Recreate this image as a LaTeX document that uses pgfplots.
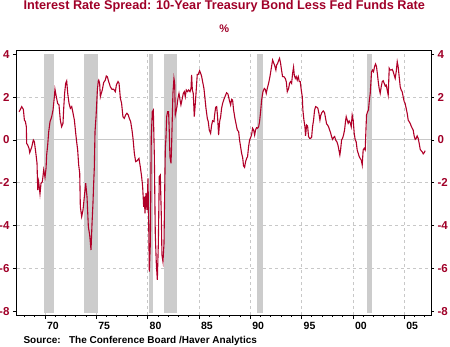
\documentclass[border=0pt]{standalone}
\usepackage{fontspec}
\setmainfont{Liberation Sans}
\usepackage{pgfplots}
\usepackage{pgfplotstable}
\pgfplotsset{compat=1.18}
\definecolor{tred}{RGB}{160,0,40}
\definecolor{lred}{RGB}{176,0,40}
\definecolor{recg}{RGB}{204,204,204}
\definecolor{gridg}{RGB}{200,200,200}
\pgfplotstableread{
x y
1967.47 1.32
1967.57 1.40
1967.73 1.56
1967.89 1.43
1967.99 0.93
1968.09 0.86
1968.18 0.62
1968.21 -0.16
1968.31 -0.23
1968.44 -0.39
1968.51 -0.59
1968.60 -0.47
1968.70 -0.34
1968.86 0.00
1968.96 -0.08
1969.09 -0.55
1969.22 -1.09
1969.29 -2.34
1969.38 -1.95
1969.51 -2.52
1969.61 -2.02
1969.74 -1.95
1969.87 -1.40
1970.00 -1.74
1970.10 -1.32
1970.16 -0.70
1970.26 -0.23
1970.36 0.39
1970.49 0.86
1970.65 1.09
1970.78 1.40
1970.91 2.02
1970.97 2.37
1971.10 2.02
1971.23 1.71
1971.36 1.64
1971.49 0.93
1971.62 0.62
1971.75 0.78
1971.82 1.48
1971.91 2.18
1972.01 2.65
1972.11 2.76
1972.21 2.18
1972.34 1.71
1972.47 1.48
1972.60 1.56
1972.73 1.25
1972.86 0.93
1972.99 0.31
1973.08 -0.08
1973.18 -0.47
1973.28 -1.17
1973.38 -1.56
1973.44 -3.12
1973.57 -3.58
1973.70 -3.27
1973.83 -2.65
1973.96 -2.02
1974.09 -2.65
1974.22 -4.05
1974.35 -4.44
1974.48 -5.14
1974.58 -3.89
1974.67 -2.96
1974.74 -2.02
1974.80 -1.32
1974.87 0.39
1974.97 1.09
1975.10 2.34
1975.19 2.76
1975.23 2.80
1975.32 2.65
1975.39 2.02
1975.48 2.18
1975.58 2.34
1975.71 2.68
1975.87 2.80
1975.97 2.99
1976.07 2.96
1976.20 2.73
1976.36 2.49
1976.52 2.37
1976.69 2.37
1976.85 2.26
1976.95 2.57
1977.11 2.73
1977.21 2.65
1977.34 1.95
1977.46 1.71
1977.59 1.09
1977.72 1.01
1977.85 1.17
1977.98 1.25
1978.11 1.17
1978.21 1.01
1978.34 0.86
1978.47 0.47
1978.57 0.08
1978.70 -0.62
1978.83 -1.01
1978.96 -0.98
1979.15 -0.86
1979.28 -1.25
1979.41 -1.71
1979.51 -2.18
1979.61 -3.12
1979.67 -2.65
1979.74 -3.43
1979.83 -2.49
1979.93 -3.27
1980.03 -1.79
1980.09 -3.58
1980.16 -6.15
1980.26 -4.83
1980.35 0.16
1980.45 1.32
1980.55 1.40
1980.65 -0.78
1980.74 -4.36
1980.84 -5.76
1980.94 -6.54
1981.04 -4.83
1981.13 -1.71
1981.23 -1.64
1981.33 -3.58
1981.39 -5.37
1981.49 -5.69
1981.59 -4.83
1981.65 -2.65
1981.72 -0.39
1981.78 0.08
1981.85 1.09
1981.94 1.32
1982.04 1.32
1982.11 0.31
1982.17 -0.78
1982.27 -1.09
1982.33 -0.31
1982.40 1.09
1982.46 2.18
1982.56 2.88
1982.63 2.65
1982.69 1.17
1982.79 1.40
1982.85 1.56
1982.95 1.95
1983.05 2.18
1983.18 1.79
1983.24 1.64
1983.34 1.87
1983.47 2.18
1983.57 2.26
1983.66 2.02
1983.76 2.34
1983.89 2.26
1983.99 2.34
1984.12 2.26
1984.22 2.41
1984.28 3.04
1984.35 2.34
1984.44 2.18
1984.54 1.09
1984.64 1.71
1984.74 2.41
1984.83 3.07
1984.93 3.07
1985.06 3.24
1985.16 3.12
1985.26 2.96
1985.35 2.73
1985.48 2.41
1985.58 1.95
1985.68 1.48
1985.81 1.01
1985.90 0.86
1986.00 0.47
1986.13 0.31
1986.23 0.70
1986.33 0.90
1986.46 0.86
1986.52 1.17
1986.62 1.53
1986.72 1.56
1986.81 1.09
1986.91 0.23
1987.01 0.86
1987.11 1.09
1987.20 1.48
1987.30 1.71
1987.43 1.90
1987.56 2.06
1987.69 2.21
1987.82 2.15
1987.95 1.87
1988.08 1.64
1988.18 1.90
1988.27 1.87
1988.37 1.40
1988.50 1.01
1988.63 0.70
1988.73 0.47
1988.86 0.39
1988.95 0.00
1989.05 -0.31
1989.15 -0.62
1989.25 -0.81
1989.34 -1.21
1989.44 -1.28
1989.54 -1.01
1989.64 -0.86
1989.73 -0.78
1989.83 -0.31
1989.93 0.00
1990.03 0.12
1990.12 0.23
1990.22 0.55
1990.32 0.47
1990.42 0.23
1990.51 0.47
1990.61 0.58
1990.71 0.55
1990.81 0.62
1990.90 0.86
1991.00 1.32
1991.10 1.87
1991.23 2.26
1991.36 2.41
1991.45 2.37
1991.55 2.18
1991.65 2.41
1991.78 2.65
1991.91 2.96
1992.04 3.35
1992.17 3.74
1992.27 3.61
1992.36 3.50
1992.49 3.27
1992.56 3.50
1992.66 3.58
1992.75 3.71
1992.85 3.82
1992.95 3.58
1993.04 3.27
1993.14 2.96
1993.27 2.96
1993.40 2.88
1993.50 2.73
1993.60 2.26
1993.73 2.41
1993.82 2.65
1993.92 2.73
1994.02 2.65
1994.12 3.12
1994.21 3.40
1994.28 3.04
1994.38 2.88
1994.47 2.96
1994.57 2.80
1994.67 2.96
1994.77 2.73
1994.86 2.73
1994.96 2.34
1995.06 2.02
1995.12 1.40
1995.22 0.93
1995.32 0.62
1995.38 0.19
1995.48 0.70
1995.58 0.65
1995.67 0.16
1995.77 0.08
1995.87 0.08
1995.97 0.12
1996.06 0.62
1996.16 0.93
1996.26 1.40
1996.36 1.56
1996.49 1.53
1996.58 1.48
1996.68 1.25
1996.78 0.93
1996.87 1.17
1996.97 1.28
1997.10 1.36
1997.23 1.28
1997.33 1.01
1997.43 0.75
1997.52 0.70
1997.62 0.62
1997.72 0.47
1997.82 0.34
1997.91 0.16
1998.01 0.03
1998.11 0.12
1998.21 0.16
1998.34 -0.03
1998.43 -0.08
1998.53 -0.23
1998.63 -0.47
1998.72 -0.70
1998.79 -0.47
1998.89 0.00
1998.98 0.08
1999.08 0.23
1999.18 0.47
1999.27 0.86
1999.34 1.09
1999.44 0.93
1999.53 0.78
1999.63 0.89
1999.73 0.81
1999.83 0.62
1999.92 1.17
2000.02 0.93
2000.12 0.31
2000.22 0.00
2000.31 -0.08
2000.41 -0.47
2000.51 -0.62
2000.61 -0.78
2000.70 -0.86
2000.80 -0.93
2000.90 -1.17
2000.99 -0.47
2001.09 -0.39
2001.19 -0.47
2001.25 0.31
2001.32 1.17
2001.42 1.32
2001.51 1.40
2001.58 1.79
2001.68 2.18
2001.74 2.65
2001.81 3.19
2001.90 3.27
2002.00 3.19
2002.10 3.43
2002.20 3.55
2002.29 3.43
2002.39 3.04
2002.46 2.73
2002.55 2.41
2002.65 2.18
2002.75 2.49
2002.85 2.73
2002.94 2.77
2003.04 2.65
2003.14 2.52
2003.23 2.57
2003.33 2.34
2003.43 2.10
2003.53 3.35
2003.62 3.27
2003.72 3.27
2003.82 3.30
2003.92 3.19
2004.01 3.04
2004.11 2.88
2004.21 3.19
2004.31 3.66
2004.40 3.43
2004.50 2.96
2004.60 2.49
2004.69 2.34
2004.79 2.26
2004.89 2.02
2004.99 1.79
2005.08 1.71
2005.18 1.48
2005.28 1.25
2005.38 0.93
2005.47 0.86
2005.57 0.78
2005.67 0.65
2005.77 0.55
2005.86 0.47
2005.96 0.19
2006.06 0.03
2006.16 0.08
2006.25 0.19
2006.35 0.08
2006.45 -0.16
2006.55 -0.44
2006.64 -0.50
2006.74 -0.55
2006.84 -0.65
2006.94 -0.59
2007.03 -0.50
}\spread
\begin{document}
\begin{tikzpicture}[x=1pt,y=1pt]
\useasboundingbox (-17,-31) rectangle (433,315);
\begin{axis}[at={(0,0)}, anchor=south west, scale only axis,
  width=414pt, height=264pt,
  xmin=1967.27, xmax=2007.6, ymin=-8.18, ymax=4.16,
  axis line style={black, line width=1pt},
  xtick={1970,1975,...,2005}, xticklabels={70,75,80,85,90,95,00,05},
  minor xtick={1968,...,2007},
  xtick pos=bottom, ytick pos=left,
  tick align=outside, major tick length=4pt, minor tick length=2pt,
  tick style={black, line width=0.8pt},
  ytick={-8,-6,...,4},
  /pgf/number format/assume math mode=true,
  yticklabel style={font=\bfseries\fontsize{11.5}{11.5}\selectfont, text=tred},
  xticklabel style={font=\bfseries\fontsize{10.5}{10.5}\selectfont, anchor=north west, xshift=-1.5pt},
  xmajorgrids, grid style={gridg, dashed, line width=0.8pt},
  clip=true]
\foreach \v in {2,-2,-4,-6} {
  \edef\temp{\noexpand\draw[gridg, dashed, line width=0.8pt] (axis cs:1967.27,\v) -- (axis cs:2007.6,\v);}
  \temp
}
\draw[gridg, line width=1pt] (axis cs:1967.27,0) -- (axis cs:2007.6,0);
\addplot[fill=recg, draw=none] coordinates {(1969.917,-8.1) (1969.917,4.02) (1970.833,4.02) (1970.833,-8.1)} -- cycle;
\addplot[fill=recg, draw=none] coordinates {(1973.833,-8.1) (1973.833,4.02) (1975.167,4.02) (1975.167,-8.1)} -- cycle;
\addplot[fill=recg, draw=none] coordinates {(1980.08,-8.1) (1980.08,4.02) (1980.52,4.02) (1980.52,-8.1)} -- cycle;
\addplot[fill=recg, draw=none] coordinates {(1981.58,-8.1) (1981.58,4.02) (1982.85,4.02) (1982.85,-8.1)} -- cycle;
\addplot[fill=recg, draw=none] coordinates {(1990.67,-8.1) (1990.67,4.02) (1991.19,4.02) (1991.19,-8.1)} -- cycle;
\addplot[fill=recg, draw=none] coordinates {(2001.33,-8.1) (2001.33,4.02) (2001.81,4.02) (2001.81,-8.1)} -- cycle;
\addplot[lred, line width=1.1pt, mark=none] table[x=x, y=y] {\spread};
\end{axis}
\begin{axis}[at={(0,0)}, anchor=south west, scale only axis,
  width=414pt, height=264pt,
  xmin=1967.27, xmax=2007.6, ymin=-8.18, ymax=4.16,
  axis x line=none, axis y line*=right,
  axis line style={black, line width=1pt},
  tick align=outside, major tick length=3pt,
  tick style={black, line width=0.8pt},
  ytick={-8,-6,...,4},
  /pgf/number format/assume math mode=true,
  yticklabel style={font=\bfseries\fontsize{11.5}{11.5}\selectfont, text=tred}]
\end{axis}
\node[font=\bfseries\fontsize{12.7}{12.7}\selectfont, text=tred] at (207.3,309) {Interest Rate Spread: 10-Year Treasury Bond Less Fed Funds Rate};
\node[font=\bfseries\fontsize{11}{11}\selectfont, text=tred] at (207.3,286) {\%};
\node[anchor=west, font=\bfseries\fontsize{10}{10}\selectfont] at (3,-25.7) {Source:\ \ \ The Conference Board /Haver Analytics};
\end{tikzpicture}
\end{document}
